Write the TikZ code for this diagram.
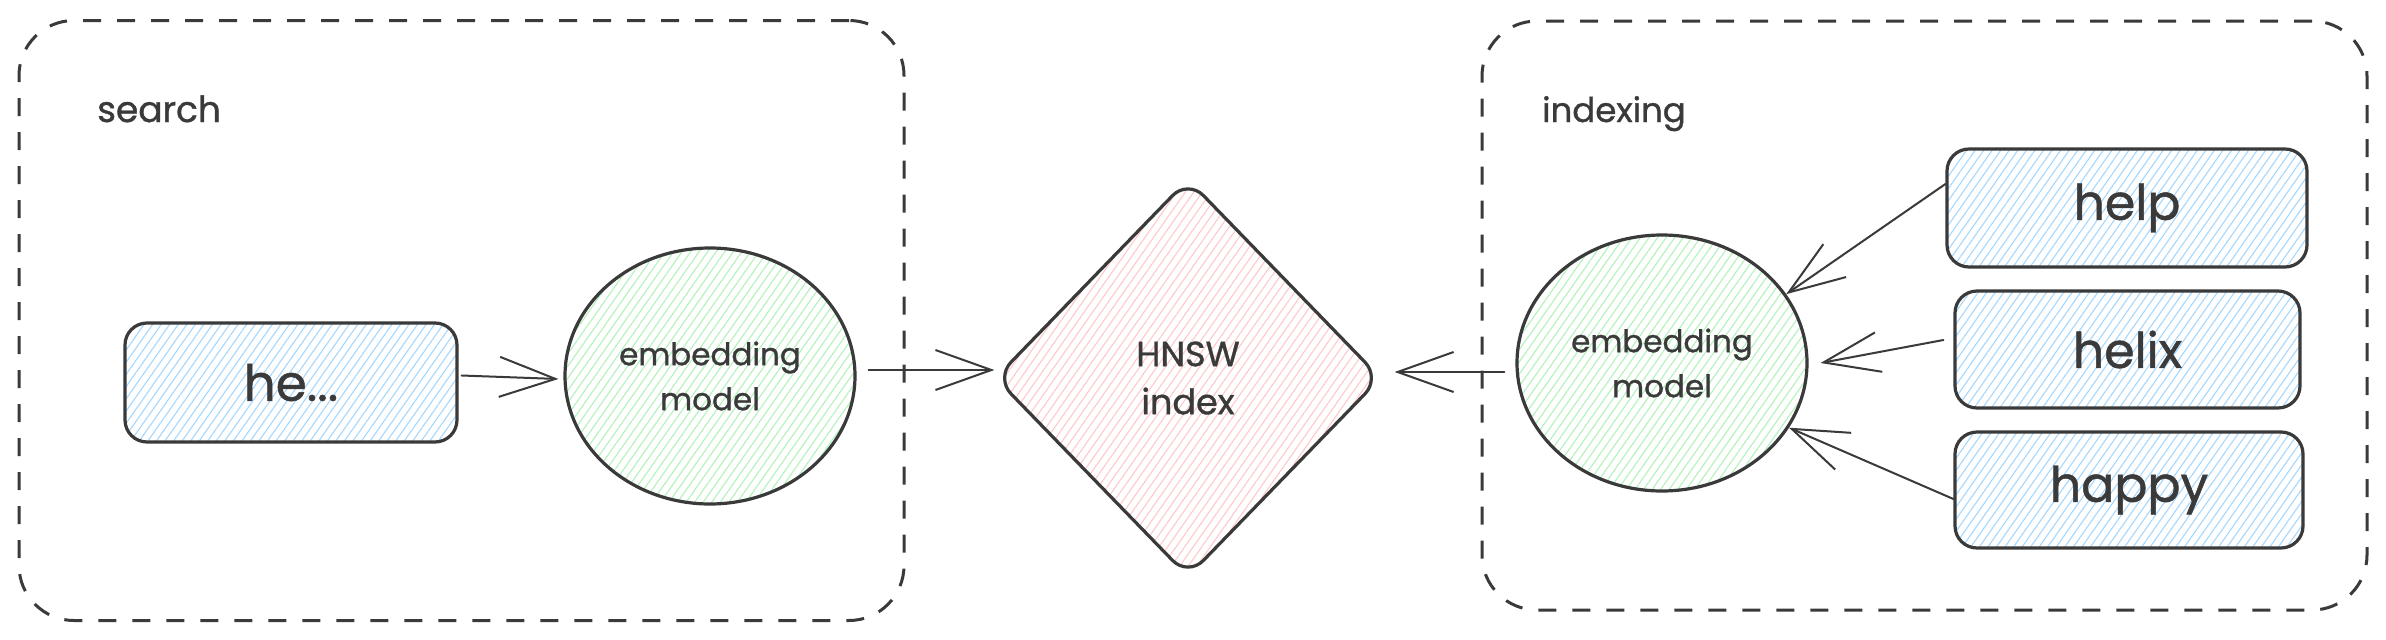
\documentclass[tikz,border=0pt]{standalone}
\usepackage{fontspec}
\setmainfont{Poppins}[FakeBold=1]
\usetikzlibrary{shapes.geometric,arrows.meta,patterns.meta}
\definecolor{ink}{HTML}{3A3A3A}
\definecolor{hblue}{HTML}{A5D8FF}
\definecolor{hgreen}{HTML}{B2F2BB}
\definecolor{hred}{HTML}{FFC9C9}
\begin{document}
\begin{tikzpicture}[x=1pt,y=-1pt,
  container/.style={draw=ink, line width=3pt, dash pattern=on 18pt off 16pt, rounded corners=55pt, inner sep=0pt},
  hatch/.style={pattern={Lines[angle=55,distance=7pt,line width=1.1pt]}, pattern color=#1},
  wordbox/.style={draw=ink, line width=3.2pt, rounded corners=22pt, hatch=hblue, text=ink, inner sep=0pt},
  model/.style={ellipse, draw=ink, line width=3.2pt, hatch=hgreen, minimum width=290pt, minimum height=256pt, inner sep=0pt, align=center, text=ink, font=\fontsize{31}{45}\selectfont},
  idx/.style={diamond, draw=ink, line width=3.2pt, hatch=hred, rounded corners=22pt, minimum width=386pt, minimum height=398pt, inner sep=0pt, align=center, text=ink, font=\fontsize{35}{48}\selectfont},
  arr/.style={draw=ink, line width=2pt, line cap=round, -{Straight Barb[length=56pt,width=40pt,line width=2pt]}},
  lbl/.style={text=ink, anchor=base west, inner sep=0pt}
]
\useasboundingbox (0,0) rectangle (2386,640);
\fill[white] (0,0) rectangle (2386,640);

% containers
\node[container, minimum width=885pt, minimum height=600pt] (searchgrp) at (461.5,320.5) {};
\node[container, minimum width=885pt, minimum height=589pt] (indexgrp) at (1924.5,315.5) {};
\node[lbl, font=\fontsize{36}{40}\selectfont] (searchlbl) at (97,122) {search};
\node[lbl, font=\fontsize{34}{40}\selectfont] (indexlbl) at (1542,122) {indexing};

% search side
\node[wordbox, minimum width=332pt, minimum height=119pt, font=\fontsize{50}{54}\selectfont] (he) at (291,382.5) {he...};
\node[model] (c1) at (710,376) {embedding\\model};

% index
\node[idx] (hnsw) at (1188,378) {HNSW\\index};

% indexing side
\node[model] (c2) at (1662,363) {embedding\\model};
\node[wordbox, minimum width=360pt, minimum height=118pt, font=\fontsize{49}{54}\selectfont] (help) at (2127,208) {help};
\node[wordbox, minimum width=345pt, minimum height=117pt, font=\fontsize{49}{54}\selectfont] (helix) at (2127.5,349.5) {helix};
\node[wordbox, minimum width=348pt, minimum height=116pt, font=\fontsize{49}{54}\selectfont] (happy) at (2129,490) {happy};

% connectors
\draw[arr] ([xshift=4pt,yshift=7pt]he.east) -- ([xshift=-5pt,yshift=-3pt]c1.west);
\draw[arr] ([xshift=12pt,yshift=6pt]c1.east) -- ([xshift=1pt,yshift=8pt]hnsw.west);
\draw[arr] ([xshift=-11pt,yshift=-9pt]c2.west) -- ([xshift=12pt,yshift=6pt]hnsw.east);
\draw[arr] ([yshift=24pt]help.west) -- (c2.29);
\draw[arr] ([xshift=-10pt,yshift=9.5pt]helix.west) -- ([xshift=12pt]c2.east);
\draw[arr] ([yshift=-9pt]happy.west) -- (c2.-27);
\end{tikzpicture}
\end{document}
